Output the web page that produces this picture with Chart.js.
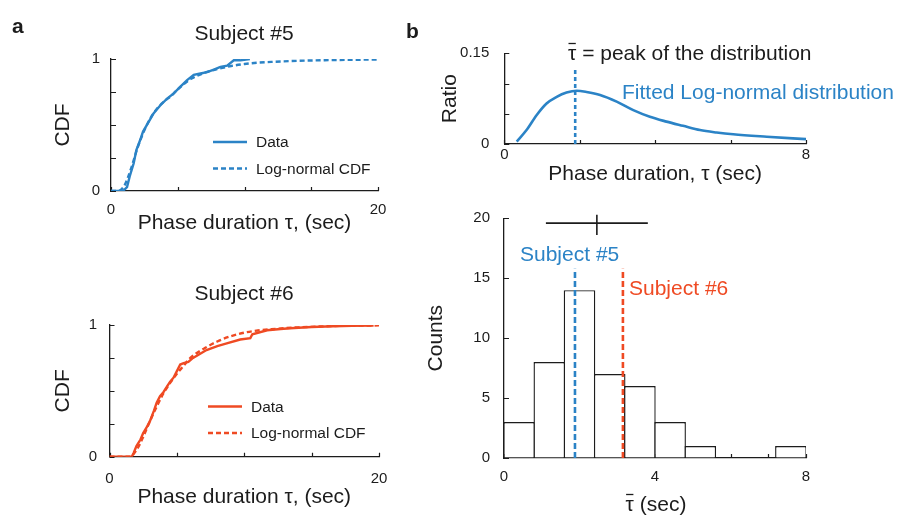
<!DOCTYPE html>
<html>
<head>
<meta charset="utf-8">
<title>Phase duration CDFs and histogram</title>
<script src="https://cdn.jsdelivr.net/npm/chart.js@4.4.1/dist/chart.umd.min.js"></script>
<style>
  html, body { margin: 0; padding: 0; background: #fff; }
  #page { position: relative; width: 898px; height: 517px; overflow: hidden; background: #fff; }
  #page canvas { position: absolute; left: 0; top: 0; }
</style>
</head>
<body>
<div id="page">
  <canvas id="cdf5" width="898" height="517"></canvas>
  <canvas id="cdf6" width="898" height="517"></canvas>
  <canvas id="ratio" width="898" height="517"></canvas>
  <canvas id="hist" width="898" height="517"></canvas>
</div>
<script>
// ---- data ----

// Subject #5, empirical CDF and fitted log-normal CDF
const s5DataTau = [0, 0.9, 1.2, 1.4, 1.7, 1.9, 2.2, 2.4, 2.8, 3.2, 3.7, 4.2, 4.7, 5.2, 5.7, 6.2, 6.7, 7.2, 7.7, 8.2, 8.7, 9.2, 9.7, 10.4]
const s5DataCdf = [0, 0, 0.03, 0.11, 0.21, 0.31, 0.39, 0.45, 0.52, 0.59, 0.65, 0.70, 0.74, 0.79, 0.84, 0.88, 0.89, 0.90, 0.92, 0.94, 0.95, 0.99, 0.99, 1.0]
const s5FitTau = [0, 0.5, 1, 1.5, 2, 2.5, 3, 3.5, 4, 4.5, 5, 6, 7, 8, 9, 10, 11, 12, 14, 16, 18, 20]
const s5FitCdf = [0, 0, 0.04, 0.17, 0.33, 0.46, 0.56, 0.63, 0.68, 0.72, 0.77, 0.85, 0.895, 0.925, 0.947, 0.962, 0.972, 0.978, 0.986, 0.991, 0.994, 0.996]

// Subject #6
const s6DataTau = [0, 1.65, 1.8, 2.0, 2.3, 2.5, 2.8, 3.0, 3.3, 3.5, 3.75, 4.0, 4.25, 4.5, 4.75, 5.0, 5.25, 5.5, 5.85, 6.2, 6.7, 7.2, 8.0, 8.7, 9.7, 10.45, 10.6, 11.7, 12.7, 13.4, 15, 16.6, 18, 19.6]
const s6DataCdf = [0, 0, 0.03, 0.08, 0.13, 0.18, 0.23, 0.27, 0.35, 0.41, 0.46, 0.49, 0.53, 0.57, 0.60, 0.65, 0.70, 0.71, 0.72, 0.75, 0.78, 0.81, 0.84, 0.86, 0.89, 0.90, 0.93, 0.96, 0.97, 0.975, 0.985, 0.99, 0.993, 0.996]
const s6FitTau = [0, 1.5, 2, 2.5, 3, 3.5, 4, 4.5, 5, 5.5, 6, 7, 8, 9, 10, 11, 12, 13, 14, 16, 18, 20]
const s6FitCdf = [0, 0, 0.05, 0.15, 0.27, 0.38, 0.48, 0.56, 0.63, 0.69, 0.75, 0.82, 0.875, 0.915, 0.942, 0.958, 0.968, 0.976, 0.982, 0.99, 0.995, 0.997]

// fitted log-normal density (ratio) for subject #5
const pdfTau = [0.33, 0.59, 0.86, 1.12, 1.39, 1.65, 1.92, 2.18, 2.54, 2.98, 3.42, 3.86, 4.30, 4.74, 5.19, 5.63, 6.07, 6.96, 8.0]
const pdfRatio = [0.004, 0.023, 0.048, 0.067, 0.078, 0.085, 0.088, 0.086, 0.081, 0.070, 0.056, 0.045, 0.037, 0.030, 0.023, 0.019, 0.016, 0.012, 0.008]
const peakLineTop = 0.124

// histogram of tau-bar over subjects
const binCenters = [0.4, 1.2, 2.0, 2.8, 3.6, 4.4, 5.2, 6.0, 6.8, 7.6]
const binCounts = [3, 8, 14, 7, 6, 3, 1, 0, 0, 1]
const s5Peak = 1.88
const s6Peak = 3.15
const subjectLineTop = 15.8
const meanTau = 2.46
const sdRange = [1.11, 3.81]
const meanRowY = 19.6
const meanMark = [18.6, 20.3]

// tick labels shown on each axis
const cdfXLabels = [0, 20]
const cdfYLabels = [0, 1]
const ratioXLabels = [0, 8]
const ratioYLabels = [0, 0.15]
const histXLabels = [0, 4, 8]
const histYLabels = [0, 5, 10, 15, 20]

// ---- look ----
const PAGE_W = 898, PAGE_H = 517
const FONT = '"Liberation Sans", Arial, Helvetica, sans-serif'
const INK = '#1c1c1c'
const BLUE = '#2b83c6'
const RED = '#ef4a23'
const TICK_FONT = { size: 15, lineHeight: 1.2 }
const TITLE_FONT = { size: 21, lineHeight: 1 }

Chart.defaults.font.family = FONT
Chart.defaults.color = INK
Chart.defaults.animation = false
Chart.defaults.plugins.legend.display = false
Chart.defaults.plugins.tooltip.enabled = false
Chart.defaults.elements.point.radius = 0

const pts = (xs, ys) => xs.map((x, i) => ({ x, y: ys[i] }))
const vline = (x, y0, y1) => [{ x, y: y0 }, { x, y: y1 }]
const shows = (list, v) => list.some(l => Math.abs(l - v) < 1e-9)

// every chart is page sized; the padding puts its plot box where the figure has it
const frame = (box, yW, xH) => ({
    padding: { left: box.l - yW, top: box.t, right: PAGE_W - box.r, bottom: PAGE_H - box.b - xH }
})

const xAxis = ({ min, max, step, labels, title, pad, height }) => ({
    type: 'linear', min, max, offset: false,
    grid: { display: true, drawOnChartArea: false, drawTicks: false, offset: false },
    border: { display: true, color: INK, width: 1.3 },
    ticks: {
        stepSize: step, autoSkip: false, maxRotation: 0, padding: pad, font: TICK_FONT, color: INK,
        callback: v => shows(labels, v) ? String(v) : ''
    },
    title: { display: !!title, text: title || '', font: TITLE_FONT, color: INK, padding: 0 },
    afterFit: s => { s.height = height }
})

const yAxis = ({ min, max, step, labels, title, pad, width }) => ({
    type: 'linear', min, max,
    grid: { display: true, drawOnChartArea: false, drawTicks: false },
    border: { display: true, color: INK, width: 1.3 },
    ticks: {
        stepSize: step, autoSkip: false, padding: pad, font: TICK_FONT, color: INK,
        callback: v => shows(labels, v) ? String(v) : ''
    },
    title: { display: true, text: title, font: TITLE_FONT, color: INK, padding: 0 },
    afterFit: s => { s.width = width }
})

// small tick marks pointing into the plot
const inwardTicks = {
    id: 'inwardTicks',
    beforeDatasetsDraw(chart) {
        const { ctx, chartArea: a } = chart
        const xs = chart.scales.x, ys = chart.scales.y
        ctx.save()
        ctx.strokeStyle = INK
        ctx.lineWidth = 1.2
        ctx.beginPath()
        xs.ticks.forEach(t => {
            const px = Math.round(xs.getPixelForValue(t.value)) + 0.5
            ctx.moveTo(px, a.bottom)
            ctx.lineTo(px, a.bottom - 4)
        })
        ys.ticks.forEach(t => {
            const py = Math.round(ys.getPixelForValue(t.value)) + 0.5
            ctx.moveTo(a.left, py)
            ctx.lineTo(a.left + 5, py)
        })
        ctx.stroke()
        ctx.restore()
    }
}

// free text; bar: true puts a macron over the first letter (tau-bar)
const textLayer = (items) => ({
    id: 'textLayer',
    afterDraw(chart) {
        const ctx = chart.ctx
        items.forEach(n => {
            ctx.save()
            ctx.font = (n.bold ? 'bold ' : '') + n.size + 'px ' + FONT
            ctx.fillStyle = n.color || INK
            ctx.textAlign = n.align || 'left'
            ctx.textBaseline = 'alphabetic'
            ctx.fillText(n.text, n.x, n.y)
            if (n.bar) {
                const full = ctx.measureText(n.text).width
                const first = ctx.measureText(n.text[0]).width
                const x0 = n.align === 'center' ? n.x - full / 2 : n.x
                ctx.strokeStyle = n.color || INK
                ctx.lineWidth = 1.3
                ctx.beginPath()
                ctx.moveTo(x0 + 0.5, n.y - 16.5)
                ctx.lineTo(x0 + first - 0.5, n.y - 16.5)
                ctx.stroke()
            }
            ctx.restore()
        })
    }
})

// legend: line sample + dataset label
const lineKey = (x, y, dy) => ({
    id: 'lineKey',
    afterDraw(chart) {
        const ctx = chart.ctx
        chart.data.datasets.forEach((ds, i) => {
            const yy = y + i * dy
            ctx.save()
            ctx.strokeStyle = ds.borderColor
            ctx.lineWidth = ds.borderWidth
            ctx.setLineDash(ds.borderDash || [])
            ctx.beginPath()
            ctx.moveTo(x, yy)
            ctx.lineTo(x + 34, yy)
            ctx.stroke()
            ctx.setLineDash([])
            ctx.fillStyle = INK
            ctx.font = '15.5px ' + FONT
            ctx.textBaseline = 'middle'
            ctx.fillText(ds.label, x + 43, yy + 1)
            ctx.restore()
        })
    }
})

const cdfChart = (id, color, dataTau, dataCdf, fitTau, fitCdf, box, yW, xH, xPad, yPad, notes, keyAt) =>
    new Chart(document.getElementById(id), {
        type: 'line',
        data: {
            datasets: [
                { label: 'Data', data: pts(dataTau, dataCdf), borderColor: color, borderWidth: 2.4, tension: 0, order: 0 },
                { label: 'Log-normal CDF', data: pts(fitTau, fitCdf), borderColor: color, borderWidth: 2.4,
                  borderDash: [5, 3], cubicInterpolationMode: 'monotone', order: 1 }
            ]
        },
        options: {
            responsive: false,
            devicePixelRatio: 1,
            layout: frame(box, yW, xH),
            scales: {
                x: xAxis({ min: 0, max: 20, step: 5, labels: cdfXLabels, title: 'Phase duration \u03c4, (sec)', pad: xPad, height: xH }),
                y: yAxis({ min: 0, max: 1, step: 0.25, labels: cdfYLabels, title: 'CDF', pad: yPad, width: yW })
            }
        },
        plugins: [inwardTicks, textLayer(notes), lineKey(keyAt[0], keyAt[1], 26.5)]
    })

cdfChart('cdf5', BLUE, s5DataTau, s5DataCdf, s5FitTau, s5FitCdf,
    { l: 111, r: 378, t: 59, b: 191 }, 58, 43.2, 9.5, 11,
    [
        { text: 'a', x: 12, y: 33, size: 21, bold: true },
        { text: 'Subject #5', x: 244, y: 40, size: 21, align: 'center' }
    ],
    [213, 142])

cdfChart('cdf6', RED, s6DataTau, s6DataCdf, s6FitTau, s6FitCdf,
    { l: 109.5, r: 379, t: 325, b: 456.7 }, 56.5, 51.5, 13, 12.5,
    [
        { text: 'Subject #6', x: 244, y: 300, size: 21, align: 'center' }
    ],
    [208, 406.5])

new Chart(document.getElementById('ratio'), {
    type: 'line',
    data: {
        datasets: [
            { label: 'Fitted Log-normal distribution', data: pts(pdfTau, pdfRatio), borderColor: BLUE, borderWidth: 2.6,
              cubicInterpolationMode: 'monotone', order: 0 },
            { label: 'peak', data: vline(s5Peak, 0, peakLineTop), borderColor: BLUE, borderWidth: 2.6,
              borderDash: [4, 3], order: 1 }
        ]
    },
    options: {
        responsive: false,
        devicePixelRatio: 1,
        layout: frame({ l: 504.3, r: 806, t: 53.3, b: 144 }, 64.8, 41.2),
        scales: {
            x: xAxis({ min: 0, max: 8, step: 2, labels: ratioXLabels, title: 'Phase duration, \u03c4 (sec)', pad: 1.5, height: 41.2 }),
            y: yAxis({ min: 0, max: 0.15, step: 0.05, labels: ratioYLabels, title: 'Ratio', pad: 15, width: 64.8 })
        }
    },
    plugins: [inwardTicks, textLayer([
        { text: 'b', x: 406, y: 38, size: 21, bold: true },
        { text: '\u03c4 = peak of the distribution', x: 568, y: 60, size: 21, bar: true },
        { text: 'Fitted Log-normal distribution', x: 622, y: 99, size: 21, color: BLUE }
    ])]
})

new Chart(document.getElementById('hist'), {
    type: 'bar',
    data: {
        datasets: [
            { type: 'bar', label: 'Counts', data: pts(binCenters, binCounts), backgroundColor: '#ffffff',
              borderColor: INK, borderWidth: 1.4, barPercentage: 1.046, categoryPercentage: 1, order: 3 },
            { type: 'line', label: 'Subject #5', data: vline(s5Peak, 0, subjectLineTop), borderColor: BLUE,
              borderWidth: 2.6, borderDash: [6, 3], order: 1 },
            { type: 'line', label: 'Subject #6', data: vline(s6Peak, 0, subjectLineTop), borderColor: RED,
              borderWidth: 2.6, borderDash: [6, 3], order: 1 },
            { type: 'line', label: 'mean \u00b1 s.d.', data: [{ x: sdRange[0], y: meanRowY }, { x: sdRange[1], y: meanRowY }],
              borderColor: INK, borderWidth: 1.6, clip: false, order: 0 },
            { type: 'line', label: 'mean', data: vline(meanTau, meanMark[0], meanMark[1]),
              borderColor: INK, borderWidth: 1.6, clip: false, order: 0 }
        ]
    },
    options: {
        responsive: false,
        devicePixelRatio: 1,
        layout: frame({ l: 504, r: 806, t: 218.3, b: 458 }, 78.5, 57.2),
        scales: {
            // x title is drawn by textLayer so the tau can carry its bar
            x: xAxis({ min: 0, max: 8, step: 1, labels: histXLabels, title: '', pad: 10, height: 57.2 }),
            y: yAxis({ min: 0, max: 20, step: 5, labels: histYLabels, title: 'Counts', pad: 14, width: 78.5 })
        }
    },
    plugins: [inwardTicks, textLayer([
        { text: 'Subject #5', x: 520, y: 261, size: 21, color: BLUE },
        { text: 'Subject #6', x: 629, y: 295, size: 21, color: RED },
        { text: '\u03c4 (sec)', x: 656, y: 511, size: 21, align: 'center', bar: true }
    ])]
})
</script>
</body>
</html>
